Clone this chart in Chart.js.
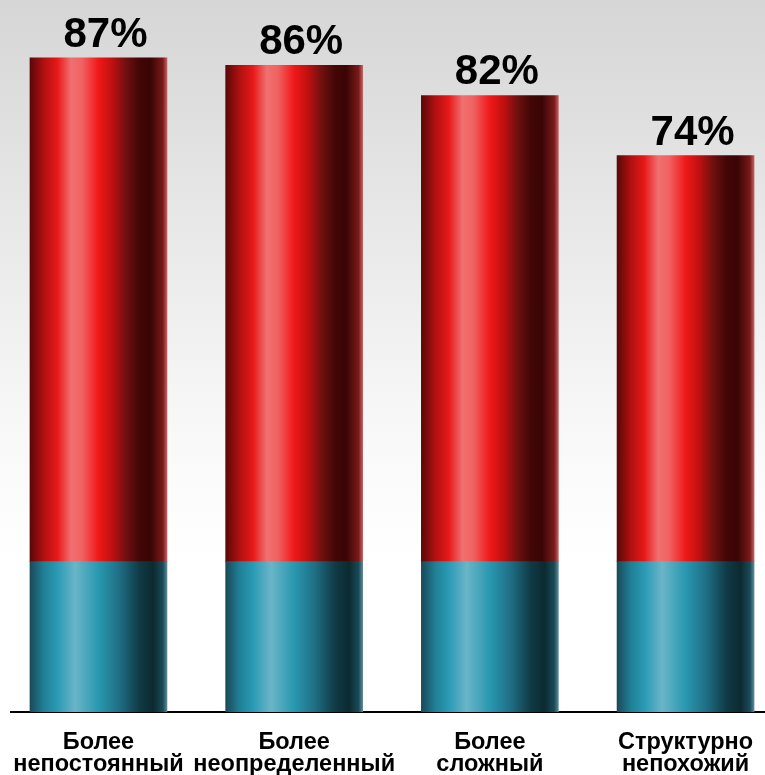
<!DOCTYPE html>
<html>
<head>
<meta charset="utf-8">
<script src="https://cdn.jsdelivr.net/npm/chart.js@4/dist/chart.umd.min.js"></script>
<style>
  html, body { margin: 0; padding: 0; background: #fff; overflow: hidden; }
</style>
</head>
<body>
<canvas id="myChart" width="765" height="775"></canvas>
<script>
const categories = [
  ['Более', 'непостоянный'],
  ['Более', 'неопределенный'],
  ['Более', 'сложный'],
  ['Структурно', 'непохожий']
];
const baseValues = [20, 20, 20, 20];       // teal part
const topValues = [67, 66, 62, 54];        // red part
const totalLabels = ['87%', '86%', '82%', '74%'];

const FONT = '"Liberation Sans", Arial, sans-serif';
const BAR_W = 137;

function barGradient(c, stops) {
  const chart = c.chart;
  const xs = chart.scales.x;
  if (!xs || !chart.chartArea) return stops[Math.floor(stops.length / 2)][1];
  const cx = xs.getPixelForValue(c.dataIndex);
  const g = chart.ctx.createLinearGradient(cx - BAR_W / 2, 0, cx + BAR_W / 2, 0);
  stops.forEach(s => g.addColorStop(s[0], s[1]));
  return g;
}

const redStops = [
  [0, '#5a0808'], [0.1, '#b01010'], [0.2, '#e81818'], [0.3, '#f07070'],
  [0.38, '#f06262'], [0.5, '#f01818'], [0.6, '#c01010'], [0.7, '#701010'],
  [0.8, '#420606'], [0.88, '#3a0505'], [0.97, '#7a1a1a'], [1, '#c06060']
];
const tealStops = [
  [0, '#1a4a58'], [0.1, '#1f7f95'], [0.2, '#2a9ab5'], [0.33, '#6ab5c8'],
  [0.5, '#2898b0'], [0.65, '#1f6f85'], [0.8, '#103a45'], [0.9, '#0c2a30'],
  [0.97, '#1a4a58'], [1, '#5a8a98']
];

const bgPlugin = {
  id: 'bg',
  beforeDraw(chart) {
    const ctx = chart.ctx;
    const g = ctx.createLinearGradient(0, 0, 0, chart.height);
    g.addColorStop(0, '#d6d6d6');
    g.addColorStop(0.55, '#f8f8f8');
    g.addColorStop(0.72, '#ffffff');
    g.addColorStop(1, '#ffffff');
    ctx.save();
    ctx.fillStyle = g;
    ctx.fillRect(0, 0, chart.width, chart.height);
    ctx.restore();
  }
};

const labelPlugin = {
  id: 'totals',
  afterDatasetsDraw(chart) {
    const ctx = chart.ctx;
    const meta = chart.getDatasetMeta(1);
    ctx.save();
    ctx.font = 'bold 42px ' + FONT;
    ctx.fillStyle = '#000';
    ctx.textAlign = 'center';
    ctx.textBaseline = 'alphabetic';
    meta.data.forEach((bar, i) => {
      ctx.fillText(totalLabels[i], bar.x + 7, bar.y - 11);
    });
    ctx.restore();
  }
};

const ctx = document.getElementById('myChart').getContext('2d');

new Chart(ctx, {
  type: 'bar',
  data: {
    datasets: [
      {
        data: baseValues.map((v, i) => ({ x: i, y: v })),
        backgroundColor: c => barGradient(c, tealStops),
        barThickness: BAR_W,
        borderWidth: 0
      },
      {
        data: topValues.map((v, i) => ({ x: i, y: v })),
        backgroundColor: c => barGradient(c, redStops),
        barThickness: BAR_W,
        borderWidth: 0
      }
    ]
  },
  options: {
    responsive: false,
    animation: false,
    layout: { padding: { left: 11, right: 0, top: 0, bottom: 0 } },
    plugins: {
      legend: { display: false },
      tooltip: { enabled: false }
    },
    scales: {
      x: {
        type: 'linear',
        stacked: true,
        offset: false,
        min: -0.447,
        max: 3.406,
        grid: { display: false, drawTicks: false, offset: false },
        border: { display: true, color: '#000', width: 2 },
        afterFit(scale) {
          scale.height = 63;
          scale.paddingLeft = 0;
          scale.paddingRight = 0;
        },
        ticks: {
          stepSize: 1,
          includeBounds: false,
          autoSkip: false,
          maxRotation: 0,
          padding: 20,
          color: '#000',
          font: { family: FONT, size: 23.5, weight: 'bold', lineHeight: 0.92 },
          callback: v => Number.isInteger(v) && categories[v] ? categories[v] : ''
        }
      },
      y: {
        display: false,
        stacked: true,
        min: 0,
        max: 94.7
      }
    }
  },
  plugins: [bgPlugin, labelPlugin]
});
</script>
</body>
</html>
